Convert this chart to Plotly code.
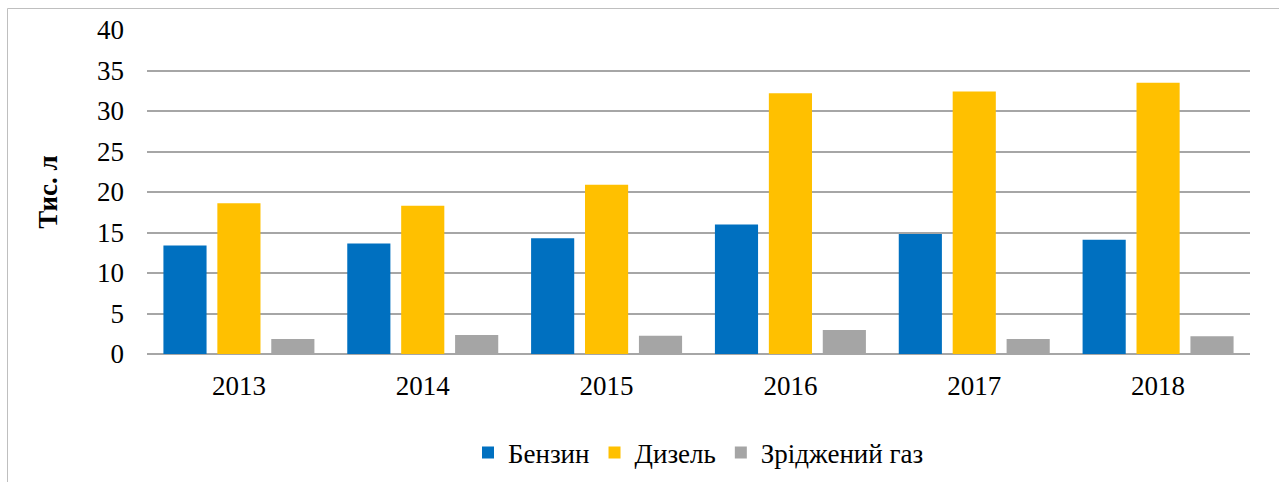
import plotly.graph_objects as go

years = ["2013", "2014", "2015", "2016", "2017", "2018"]
benzin = [13.4, 13.65, 14.3, 16.0, 14.8, 14.1]
dizel = [18.6, 18.3, 20.9, 32.2, 32.4, 33.5]
gaz = [1.85, 2.35, 2.25, 2.95, 1.85, 2.2]
series_names = ["Бензин", "Дизель", "Зріджений газ"]
colors = ["#0070C0", "#FFC000", "#A5A5A5"]
y_ticks = [0, 5, 10, 15, 20, 25, 30, 35, 40]

font_family = "Liberation Serif, Times New Roman, serif"
FS = 27

fig = go.Figure()
for name, vals, col in zip(series_names, [benzin, dizel, gaz], colors):
    fig.add_trace(go.Bar(x=years, y=vals, name=name, marker=dict(color=col, line=dict(width=0))))

W, H = 1279, 482
ml, mr, mt, mb = 147, 29, 30, 128
pw = W - ml - mr
ph = H - mt - mb

def px_x(x):
    return (x - ml) / pw

def px_y(y):
    return (H - mb - y) / ph

fig.update_layout(
    width=W, height=H,
    margin=dict(l=ml, r=mr, t=mt, b=mb, pad=0, autoexpand=False),
    paper_bgcolor="white", plot_bgcolor="white",
    barmode="group", bargap=0.12, bargroupgap=0.2,
    font=dict(family=font_family, size=FS, color="black"),
    showlegend=True,
    legend=dict(orientation="h", x=0.5, xanchor="center", yref="container", y=(H - 453) / H,
                yanchor="middle", font=dict(size=FS, family=font_family), itemwidth=30,
                traceorder="normal"),
    xaxis=dict(showgrid=False, showline=False, ticks="", tickfont=dict(size=FS),
               ticklabelstandoff=13, automargin=False),
    yaxis=dict(range=[0, 40], tickvals=y_ticks, showgrid=True, gridcolor="#A6A6A6", gridwidth=1.5,
               zeroline=True, zerolinecolor="#A6A6A6", zerolinewidth=1.5, showline=False,
               ticks="", tickfont=dict(size=FS), ticklabelstandoff=22, automargin=False,
               title=dict(text="<b>Тис. л</b>", font=dict(size=FS, family=font_family), standoff=31)),
    shapes=[dict(type="rect", xref="paper", yref="paper",
                 x0=px_x(7.5), x1=px_x(1290), y0=px_y(495), y1=px_y(8.5),
                 line=dict(color="#BFBFBF", width=1), fillcolor="rgba(0,0,0,0)", layer="below")],
)

fig.write_html("out.html", config={"displayModeBar": False},
               post_script="document.body.style.margin='0';document.body.style.overflow='hidden';")
